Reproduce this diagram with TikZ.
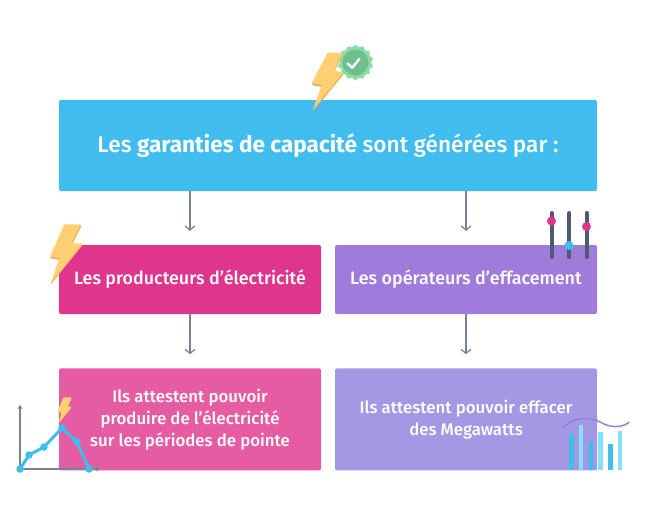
\documentclass[tikz,border=0pt]{standalone}
\usepackage{fontspec}
\setmainfont{Fira Sans Medium}[BoldFont=Fira Sans Bold]
\usetikzlibrary{arrows.meta, positioning, shapes.geometric}
\definecolor{headblue}{RGB}{64,189,238}
\definecolor{prodpink}{RGB}{224,53,140}
\definecolor{effviolet}{RGB}{159,124,219}
\definecolor{attpink}{RGB}{229,92,163}
\definecolor{attviolet}{RGB}{163,152,227}
\definecolor{arrowgrey}{RGB}{120,132,150}
\definecolor{slate}{RGB}{79,91,112}
\definecolor{boltyellow}{RGB}{255,208,115}
\definecolor{boltshade}{RGB}{228,176,96}
\definecolor{badgelight}{RGB}{138,219,166}
\definecolor{badgedark}{RGB}{111,191,142}
\definecolor{barlight}{RGB}{134,223,251}
\definecolor{barblue}{RGB}{64,189,232}
\begin{document}
\begin{tikzpicture}[
    x=1pt, y=-1pt,
    box/.style={rounded corners=2pt, text=white, align=center, inner sep=0pt},
    headbox/.style={box, fill=headblue, minimum width=538pt, minimum height=91pt, font=\fontsize{22.6}{26}\selectfont},
    midbox/.style={box, minimum width=262pt, minimum height=69pt, font=\fontsize{17.9}{21}\selectfont},
    attbox/.style={box, minimum width=262pt, minimum height=102pt, font=\fontsize{16.8}{22}\selectfont},
    link/.style={-{Straight Barb[length=4pt,width=10pt]}, arrowgrey, line width=1.3pt},
    bolt/.style={fill=boltyellow, rounded corners=0.8pt},
    boltedge/.style={fill=boltshade, rounded corners=0.8pt},
    axis/.style={-{Stealth[length=4pt,width=5pt]}, arrowgrey, line width=1.6pt},
    slider/.style={slate, line width=4pt, line cap=round},
    knob/.style={circle, minimum size=9pt, inner sep=0pt},
    dot/.style={circle, fill=headblue, minimum size=7.5pt, inner sep=0pt},
    bar/.style={line width=4.5pt}
]
    \useasboundingbox (0,0) rectangle (656,520);

    \node[headbox] (head) at (328,145.5) {Les \textbf{garanties de capacité} sont générées par :};
    \node[midbox, fill=prodpink] (prod) at (190,279.5) {Les producteurs d’électricité};
    \node[midbox, fill=effviolet] (eff) at (466,279.5) {Les opérateurs d’effacement};
    \node[attbox, fill=attpink, below=54pt of prod] (attprod) {Ils attestent pouvoir\\produire de l’électricité\\sur les périodes de pointe};
    \node[attbox, fill=attviolet, below=54pt of eff] (atteff) {Ils attestent pouvoir effacer\\des Megawatts};

    % arrows between the rows
    \draw[link, shorten >=14pt] (prod.north |- head.south) -- (prod.north);
    \draw[link, shorten >=14pt] (eff.north |- head.south) -- (eff.north);
    \draw[link, shorten >=14pt] (prod) -- (attprod) ;
    \draw[link, shorten >=14pt] (eff) -- (atteff);

    % badge and bolt on top
    \node[star, star points=14, star point ratio=1.16, fill=badgelight, minimum size=36pt, inner sep=0pt] (badge) at (355.5,62.5) {};
    \node[circle, fill=badgedark, minimum size=26pt, inner sep=0pt] (seal) at (badge.center) {};
    \draw[white, line width=2.4pt, line cap=round, line join=round] (347.5,63.5) -- (352.3,67.7) -- (359.3,59);
    \fill[boltedge] (327.7,54) -- (343,54) -- (334,72.5) -- (343.5,74.5) -- (312.7,111.7) -- (321.7,87) -- (311.7,85) -- cycle;
    \fill[bolt] (327.7,52.7) -- (343,52.7) -- (334,70.7) -- (343.5,72.5) -- (313.2,109) -- (321.7,85) -- (311.7,83) -- cycle;

    % bolt beside the producers
    \fill[boltedge] (64.3,225.5) -- (81.7,225.5) -- (71.7,245) -- (82.7,245) -- (50.7,284.5) -- (59.3,260) -- (50,258.2) -- cycle;
    \fill[bolt] (64.3,224.3) -- (81.2,224.3) -- (71.2,243.3) -- (82.7,243.3) -- (51.2,282.5) -- (59.3,258.3) -- (50,256.7) -- cycle;

    % sliders
    \draw[slider] (551.7,213) -- (551.7,257);
    \draw[slider] (569.3,213) -- (569.3,257);
    \draw[slider] (586.7,213) -- (586.7,257);
    \node[knob, fill=prodpink] (knoba) at (551.5,221) {};
    \node[knob, fill=headblue] (knobb) at (569,245.5) {};
    \node[knob, fill=prodpink] (knobc) at (586.5,226.5) {};

    % curve with its bolt
    \coordinate (origin) at (20,469);
    \draw[axis] (origin) -- (20,405);
    \draw[axis] (origin) -- (100,469);
    \node[dot] (pa) at (origin) {};
    \node[dot] (pb) at (29,455) {};
    \node[dot] (pc) at (44,447) {};
    \node[dot] (pd) at (62,428) {};
    \node[dot] (pe) at (77,442) {};
    \node[dot] (pf) at (89,469) {};
    \draw[headblue, line width=3pt] (pa.center) -- (pb.center) -- (pc.center) -- (pd.center) -- (pe.center) -- (pf.center);
    \fill[boltedge] (63.3,398) -- (71.7,398) -- (67.7,407.5) -- (71.7,407.5) -- (58.3,424) -- (61.7,413.5) -- (57.7,412.5) -- cycle;
    \fill[bolt] (63.3,397.3) -- (71.7,397.3) -- (67.7,406.7) -- (71.7,406.7) -- (58.8,422.5) -- (61.7,412.7) -- (57.7,411.7) -- cycle;

    % bars and wave
    \draw[bar, barblue] (571.7,470) -- (571.7,434);
    \draw[bar, barlight] (581,470) -- (581,424.7);
    \draw[bar, barblue] (591,470) -- (591,441.7);
    \draw[bar, barlight] (600.3,470) -- (600.3,431.7);
    \draw[bar, barblue] (610.3,470) -- (610.3,444);
    \draw[bar, barlight] (620,470) -- (620,431.3);
    \draw[effviolet, line width=1.5pt, line cap=round] (563.3,427.3) .. controls (575,416) and (590,417) .. (600,422) .. controls (610,428) and (622,428) .. (629,422.3);
\end{tikzpicture}
\end{document}
